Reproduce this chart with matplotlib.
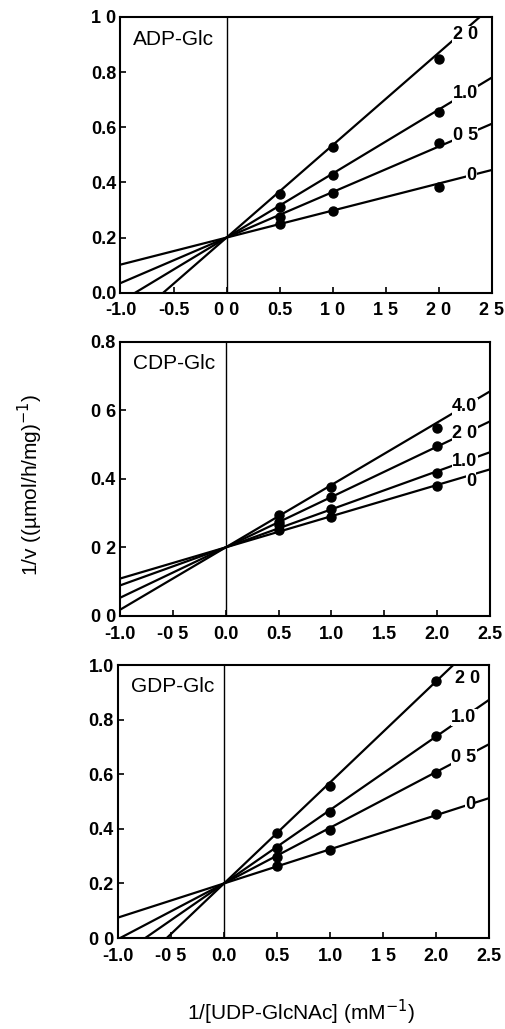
import matplotlib
matplotlib.use("Agg")
import matplotlib.pyplot as plt
import numpy as np

plt.rcParams["font.family"] = ["Liberation Sans", "DejaVu Sans"]

# 1/[UDP-GlcNAc] values where points were measured
x_pts = [0.5, 1.0, 2.0]

# ADP-Glc panel
adp_labels = ["0", "0 5", "1.0", "2 0"]
adp_slopes = [0.098, 0.165, 0.232, 0.335]
adp_y = [
    [0.249, 0.295, 0.382],
    [0.276, 0.360, 0.542],
    [0.312, 0.427, 0.654],
    [0.357, 0.530, 0.848],
]
adp_label_xy = [(2.31, 0.426), (2.25, 0.571), (2.25, 0.722), (2.25, 0.935)]

# CDP-Glc panel
cdp_labels = ["0", "1.0", "2 0", "4.0"]
cdp_slopes = [0.091, 0.111, 0.147, 0.182]
cdp_y = [
    [0.251, 0.288, 0.380],
    [0.265, 0.311, 0.416],
    [0.275, 0.348, 0.496],
    [0.295, 0.377, 0.549],
]
cdp_label_xy = [(2.32, 0.393), (2.26, 0.451), (2.26, 0.532), (2.26, 0.611)]

# GDP-Glc panel
gdp_labels = ["0", "0 5", "1.0", "2 0"]
gdp_slopes = [0.125, 0.204, 0.269, 0.37]
gdp_y = [
    [0.264, 0.322, 0.453],
    [0.298, 0.396, 0.606],
    [0.329, 0.463, 0.740],
    [0.383, 0.558, 0.941],
]
gdp_label_xy = [(2.32, 0.490), (2.26, 0.661), (2.26, 0.808), (2.30, 0.949)]

intercept = 0.2

x_ticks = [-1.0, -0.5, 0.0, 0.5, 1.0, 1.5, 2.0, 2.5]
adp_xticklabels = ["-1.0", "-0.5", "0 0", "0.5", "1 0", "1 5", "2 0", "2 5"]
cdp_xticklabels = ["-1.0", "-0 5", "0.0", "0.5", "1.0", "1.5", "2.0", "2.5"]
gdp_xticklabels = ["-1.0", "-0 5", "0.0", "0.5", "1.0", "1 5", "2.0", "2.5"]

adp_yticks = [0.0, 0.2, 0.4, 0.6, 0.8, 1.0]
adp_yticklabels = ["0.0", "0.2", "0.4", "0.6", "0.8", "1 0"]
cdp_yticks = [0.0, 0.2, 0.4, 0.6, 0.8]
cdp_yticklabels = ["0 0", "0 2", "0.4", "0 6", "0.8"]
gdp_yticks = [0.0, 0.2, 0.4, 0.6, 0.8, 1.0]
gdp_yticklabels = ["0 0", "0.2", "0.4", "0.6", "0.8", "1.0"]

panels = [
    ("ADP-Glc", adp_labels, adp_slopes, adp_y, adp_label_xy, 1.0,
     adp_yticks, adp_yticklabels, adp_xticklabels, [0.2386, 0.7155, 0.735, 0.268]),
    ("CDP-Glc", cdp_labels, cdp_slopes, cdp_y, cdp_label_xy, 0.8,
     cdp_yticks, cdp_yticklabels, cdp_xticklabels, [0.2376, 0.4014, 0.7327, 0.2666]),
    ("GDP-Glc", gdp_labels, gdp_slopes, gdp_y, gdp_label_xy, 1.0,
     gdp_yticks, gdp_yticklabels, gdp_xticklabels, [0.2337, 0.0884, 0.7347, 0.2653]),
]

fig = plt.figure(figsize=(5.05, 10.29), dpi=100)

x_line = np.array([-1.0, 2.5])
for name, labels, slopes, ys, label_xy, ymax, yt, ytl, xtl, pos in panels:
    ax = fig.add_axes(pos)
    ax.set_xlim(-1.0, 2.5)
    ax.set_ylim(0.0, ymax)
    ax.axvline(0.0, color="black", linewidth=1.0, zorder=1)
    for lab, s, yv, (lx, ly) in zip(labels, slopes, ys, label_xy):
        ax.plot(x_line, intercept + s * x_line, color="black", linewidth=1.6,
                zorder=2)
        ax.plot(x_pts, yv, "o", color="black", markersize=6.5, zorder=3)
        ax.text(lx, ly, lab, fontsize=13, fontweight="bold", ha="center",
                va="center", zorder=4,
                bbox=dict(facecolor="white", edgecolor="none", pad=0.3))
    ax.text(0.034, 0.92, name, transform=ax.transAxes, fontsize=15,
            ha="left", va="center")
    ax.set_xticks(x_ticks)
    ax.set_xticklabels(xtl, fontsize=13, fontweight="bold")
    ax.set_yticks(yt)
    ax.set_yticklabels(ytl, fontsize=13, fontweight="bold")
    ax.tick_params(axis="x", direction="in", length=4, width=1.2, pad=7)
    ax.tick_params(axis="y", direction="in", length=4, width=1.2, pad=3)
    for sp in ax.spines.values():
        sp.set_linewidth(1.5)

fig.text(0.06, 0.5287, "1/v ((\u00b5mol/h/mg)$^{-1}$)", rotation=90,
         ha="center", va="center", fontsize=15)
fig.text(0.596, 0.0165, "1/[UDP-GlcNAc] (mM$^{-1}$)", ha="center",
         va="center", fontsize=15)

fig.savefig("out.png", dpi=100)
